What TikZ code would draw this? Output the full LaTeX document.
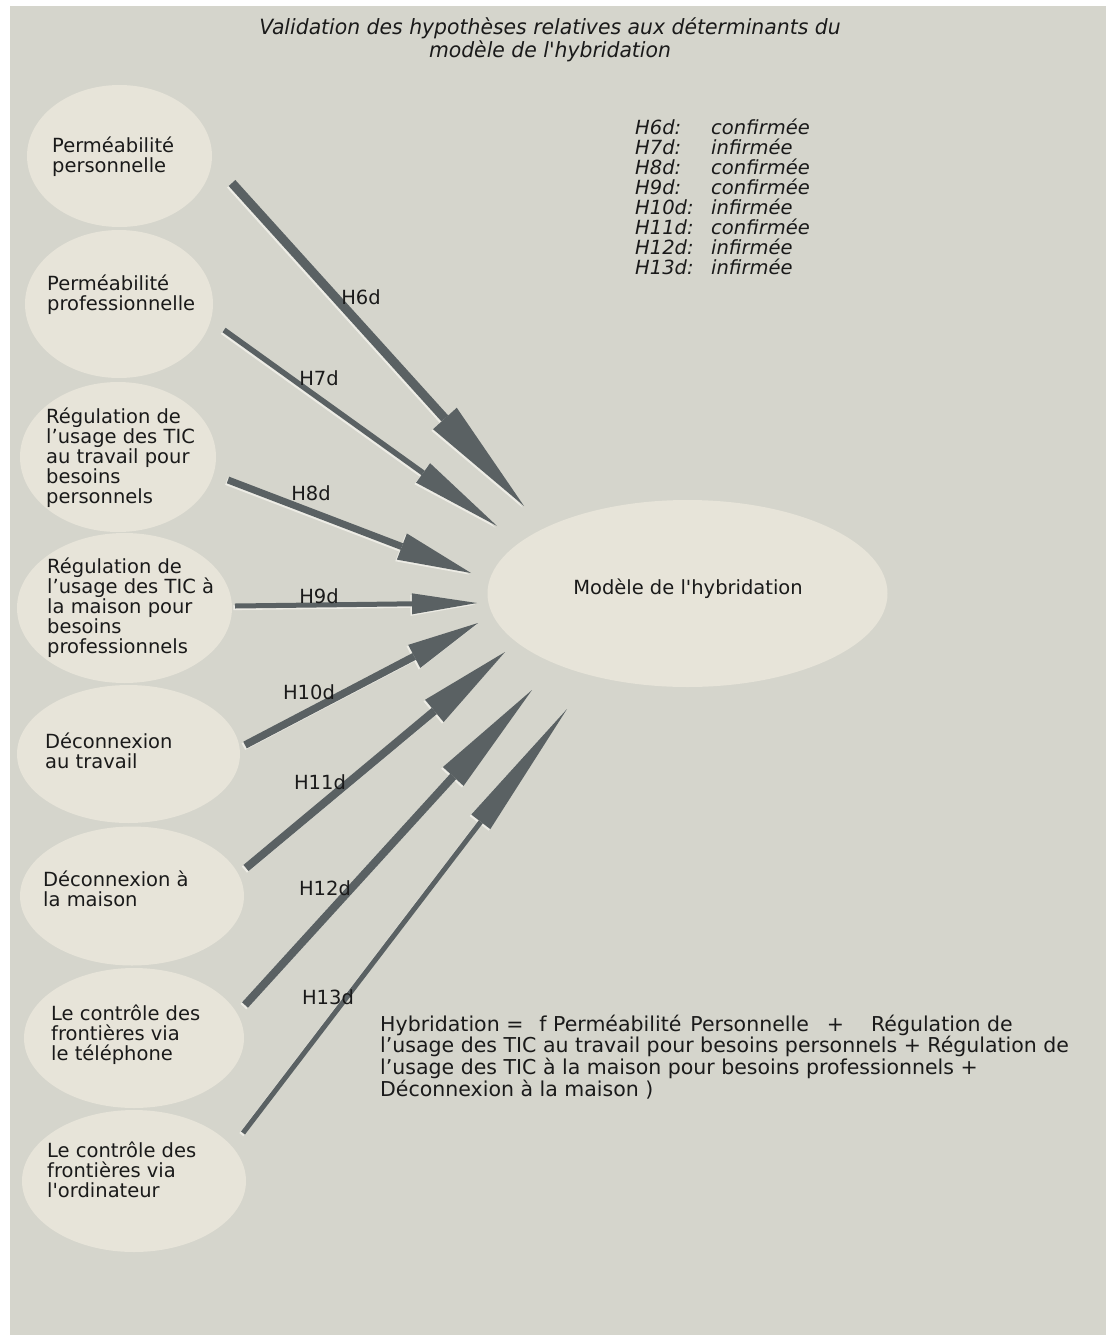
\documentclass[tikz,border=0pt]{standalone}
\usepackage{fontspec}
\newfontfamily\dvs{DejaVu Sans}
\newfontfamily\dvt{DejaVu Sans}[FakeStretch=0.97]
\usetikzlibrary{arrows.meta,shapes.geometric}
\definecolor{bgcol}{HTML}{D5D5CC}
\definecolor{ellfill}{HTML}{E7E4D9}
\definecolor{arrcol}{HTML}{5A6163}
\definecolor{hlcol}{HTML}{EDECE5}
\definecolor{txtcol}{HTML}{1A1A1A}
\begin{document}
\begin{tikzpicture}[x=1pt,y=-1pt,
  ell/.style={ellipse, fill=ellfill, draw=none, inner sep=0pt},
  lbl/.style={font=\dvs\fontsize{19.5}{20}\selectfont, text=txtcol, inner sep=0pt, align=left, anchor=base west},
  hyp/.style={font=\dvs\fontsize{19.5}{20}\selectfont, text=txtcol, inner sep=0pt},
  arr/.style={draw=arrcol},
  arrhl/.style={draw=hlcol, transform canvas={shift={(-1.6,1.6)}}}]
\useasboundingbox (0,0) rectangle (1111,1339);
\fill[white] (0,0) rectangle (1111,1339);
\fill[bgcol] (10,6) rectangle (1106,1335);

% title (anchor = baseline of last line)
\node[font=\dvt\itshape\fontsize{21}{20}\selectfont, text=txtcol, inner sep=0pt, align=center, anchor=base] (title) at (550,57)
  {Validation des hypothèses relatives aux déterminants du\\modèle de l'hybridation};

% legend
\node[lbl, font=\dvs\itshape\fontsize{19.5}{20}\selectfont] (legend) at (635,274)
  {\makebox[76pt][l]{H6d:}confirmée\\
   \makebox[76pt][l]{H7d:}infirmée\\
   \makebox[76pt][l]{H8d:}confirmée\\
   \makebox[76pt][l]{H9d:}confirmée\\
   \makebox[76pt][l]{H10d:}infirmée\\
   \makebox[76pt][l]{H11d:}confirmée\\
   \makebox[76pt][l]{H12d:}infirmée\\
   \makebox[76pt][l]{H13d:}infirmée};

% ellipses
\node[ell, minimum width=185pt, minimum height=142pt] (e1) at (119.5,156) {};
\node[ell, minimum width=188pt, minimum height=148pt] (e2) at (119,304) {};
\node[ell, minimum width=196pt, minimum height=150pt] (e3) at (118,457) {};
\node[ell, minimum width=215pt, minimum height=150pt] (e4) at (124.5,608) {};
\node[ell, minimum width=223pt, minimum height=138pt] (e5) at (128.5,754) {};
\node[ell, minimum width=224pt, minimum height=139pt] (e6) at (132,896) {};
\node[ell, minimum width=220pt, minimum height=140pt] (e7) at (134,1038) {};
\node[ell, minimum width=224pt, minimum height=142pt] (e8) at (134,1181) {};
\node[ell, minimum width=400pt, minimum height=187pt] (m) at (687.5,593.5) {};

\node[lbl] (l1) at (52,172) {Perméabilité\\personnelle};
\node[lbl] (l2) at (47,310) {Perméabilité\\professionnelle};
\node[lbl] (l3) at (46,503) {Régulation de\\l’usage des TIC\\au travail pour\\besoins\\personnels};
\node[lbl] (l4) at (47,653) {Régulation de\\l’usage des TIC à\\la maison pour\\besoins\\professionnels};
\node[lbl] (l5) at (45,768) {Déconnexion\\au travail};
\node[lbl] (l6) at (43,906) {Déconnexion à\\la maison};
\node[lbl] (l7) at (51,1060) {Le contrôle des\\frontières via\\le téléphone};
\node[lbl] (l8) at (47,1197) {Le contrôle des\\frontières via\\l'ordinateur};
\node[hyp] (lm) at (688,589) {Modèle de l'hybridation};

% arrow end points
\coordinate (s6) at (232,183);  \coordinate (t6) at (524,506);
\coordinate (s7) at (224,330);  \coordinate (t7) at (497,526);
\coordinate (s8) at (228,480);  \coordinate (t8) at (471,573);
\coordinate (s9) at (235,606);  \coordinate (t9) at (477,603);
\coordinate (s10) at (245,745); \coordinate (t10) at (478,623);
\coordinate (s11) at (246,868); \coordinate (t11) at (505,652);
\coordinate (s12) at (245,1005); \coordinate (t12) at (532,690);
\coordinate (s13) at (243,1133); \coordinate (t13) at (567,709);

\foreach \sty in {arrhl,arr}{
\draw[\sty, line width=9pt, -{Triangle[length=118pt,width=32pt,line width=0pt]}] (s6) -- (t6);
\draw[\sty, line width=5.5pt, -{Triangle[length=91pt,width=24pt,line width=0pt]}] (s7) -- (t7);
\draw[\sty, line width=7pt, -{Triangle[length=74pt,width=28pt,line width=0pt]}] (s8) -- (t8);
\draw[\sty, line width=5pt, -{Triangle[length=65pt,width=21pt,line width=0pt]}] (s9) -- (t9);
\draw[\sty, line width=7.5pt, -{Triangle[length=72pt,width=26pt,line width=0pt]}] (s10) -- (t10);
\draw[\sty, line width=8pt, -{Triangle[length=92pt,width=29pt,line width=0pt]}] (s11) -- (t11);
\draw[\sty, line width=8pt, -{Triangle[length=117pt,width=28pt,line width=0pt]}] (s12) -- (t12);
\draw[\sty, line width=5pt, -{Triangle[length=142pt,width=24pt,line width=0pt]}] (s13) -- (t13);
}

% arrow labels
\node[hyp] (h6) at (361,297) {H6d};
\node[hyp] (h7) at (319,378) {H7d};
\node[hyp] (h8) at (311,493) {H8d};
\node[hyp] (h9) at (319,596) {H9d};
\node[hyp] (h10) at (309,692) {H10d};
\node[hyp] (h11) at (320,782) {H11d};
\node[hyp] (h12) at (325,888) {H12d};
\node[hyp] (h13) at (328,997) {H13d};

% formula (anchor = baseline of last line)
\node[lbl, font=\dvs\fontsize{20.5}{20.3}\selectfont] (formula) at (380,1096)
  {Hybridation =\hspace{16pt}f Perméabilité\hspace{9pt}Personnelle\hspace{18pt}+\hspace{27pt}Régulation de\\
   l’usage des TIC au travail pour besoins personnels + Régulation de\\
   l’usage des TIC à la maison pour besoins professionnels +\\
   Déconnexion à la maison )};
\end{tikzpicture}
\end{document}
